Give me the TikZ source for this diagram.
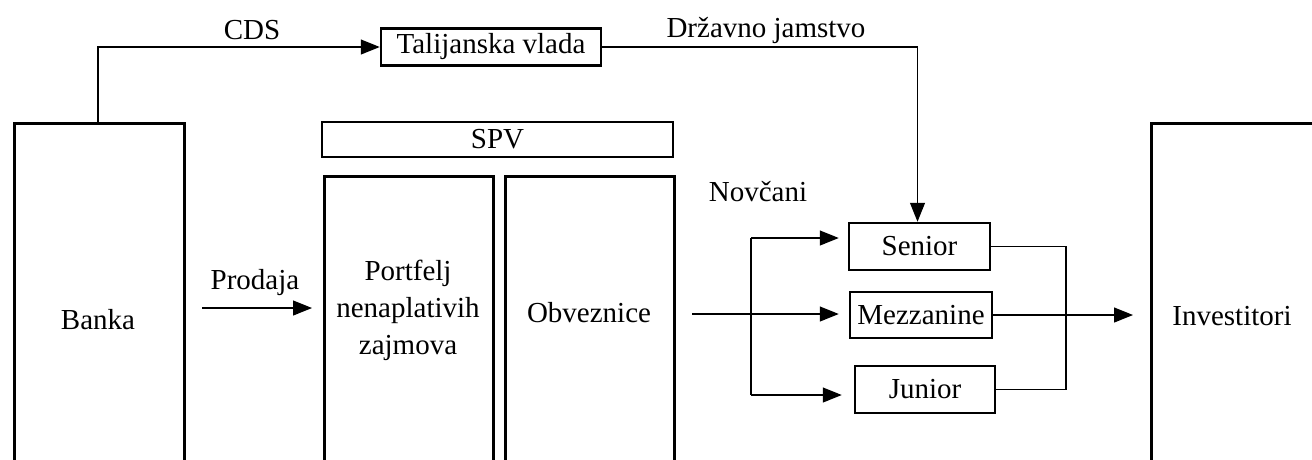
\documentclass[tikz,border=0pt]{standalone}
\usepackage{fontspec}
\setmainfont{Liberation Serif}
\usetikzlibrary{arrows.meta,calc}
\begin{document}
\begin{tikzpicture}[x=1pt,y=-1pt,
  font=\fontsize{29}{37}\selectfont,
  box/.style={draw,line width=2.5pt,inner sep=0pt,anchor=north west},
  tbox/.style={draw,line width=2.5pt,inner sep=0pt},
  con/.style={line width=1.2pt},
  arr/.style={line width=1.2pt,-{Triangle[length=19pt,width=15pt]}},
  lbl/.style={inner sep=0pt,align=center}]
\useasboundingbox (0,0) rectangle (1312,459);
\clip (0,0) rectangle (1312,459);
% tall boxes (cut off at the bottom)
\node[box,minimum width=170pt,minimum height=400pt] (banka) at (13,122) {};
\node[box,minimum width=169pt,minimum height=350pt] (portfelj) at (323,175) {};
\node[box,minimum width=169pt,minimum height=350pt] (obv) at (504,175) {};
\node[box,minimum width=220pt,minimum height=400pt] (invest) at (1150,122) {};
% boxes with text
\node[tbox,minimum width=220pt,minimum height=37pt] (tal) at (491,47) {Talijanska vlada};
\node[tbox,minimum width=351pt,minimum height=35pt] (spv) at (497.5,139.5) {SPV};
\node[tbox,minimum width=141pt,minimum height=47pt] (senior) at (919.5,246.5) {Senior};
\node[tbox,minimum width=142pt,minimum height=46pt] (mezz) at (921,315) {Mezzanine};
\node[tbox,minimum width=140pt,minimum height=47pt] (junior) at (925,389.5) {Junior};
% labels
\node[lbl] (bankaT) at (98,320) {Banka};
\node[lbl] (portT) at (408,310) {Portfelj\\nenaplativih\\zajmova};
\node[lbl] (obvT) at (589,313) {Obveznice};
\node[lbl] (invT) at (1232,316) {Investitori};
\node[lbl] (cdsT) at (252,30) {CDS};
\node[lbl] (drzT) at (766,30) {Državno jamstvo};
\node[lbl] (novT) at (758,192) {Novčani};
\node[lbl] (prodT) at (255,283) {Prodaja};
% connectors
\coordinate (cds0) at (98,123);
\draw[arr] (cds0) |- (tal.west);
\draw[arr] (tal.east) -| ([xshift=-2pt]senior.north);
\coordinate (p0) at (202,308);
\draw[arr,shorten >=11pt] (p0) -- (p0 -| portfelj.west);
\coordinate (o0) at (692,314);
\draw[arr,shorten >=10pt] (o0) -- (o0 -| mezz.west);
\coordinate (b1) at (751,238);
\coordinate (b2) at (751,395);
\draw[con] (b1) -- (b2);
\draw[arr,shorten >=9pt] (b1) -- (b1 -| senior.west);
\draw[arr,shorten >=12pt] (b2) -- (b2 -| junior.west);
\coordinate (rj) at (1066,389.5);
\draw[con] (senior.east) -| (rj) -- (junior.east);
\draw[arr,shorten >=17pt] (mezz.east) -- (mezz.east -| invest.west);
\end{tikzpicture}
\end{document}
